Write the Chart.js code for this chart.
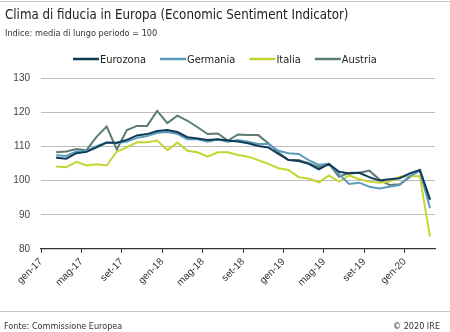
<!DOCTYPE html>
<html>
<head>
<meta charset="utf-8">
<script src="https://cdn.jsdelivr.net/npm/chart.js@4/dist/chart.umd.min.js"></script>
<style>
  html, body { margin: 0; padding: 0; background: #ffffff; }
  #wrap { width: 450px; height: 332px; }
</style>
</head>
<body>
<div id="wrap"><canvas id="c" width="450" height="332"></canvas></div>
<script>
// Economic Sentiment Indicator, monthly, feb-17 .. mar-20 (long-term average = 100)
const months = [
  'feb-17','mar-17','apr-17','mag-17','giu-17','lug-17','ago-17','set-17','ott-17','nov-17','dic-17',
  'gen-18','feb-18','mar-18','apr-18','mag-18','giu-18','lug-18','ago-18','set-18','ott-18','nov-18','dic-18',
  'gen-19','feb-19','mar-19','apr-19','mag-19','giu-19','lug-19','ago-19','set-19','ott-19','nov-19','dic-19',
  'gen-20','feb-20','mar-20'
];
const tickLabels = ['gen-17','mag-17','set-17','gen-18','mag-18','set-18','gen-19','mag-19','set-19','gen-20'];
const seriesNames = ['Eurozona', 'Germania', 'Italia', 'Austria'];

const eurozona = [106.7,106.4,108.0,108.4,109.7,111.1,111.1,111.9,113.2,113.6,114.5,
  114.8,114.2,112.7,112.3,111.9,112.1,111.7,111.4,110.9,110.1,109.7,107.8,
  106.0,105.7,104.9,103.3,104.9,102.6,102.1,102.3,101.0,100.0,100.4,100.7,
  102.1,103.1,94.5];
const germania = [107.4,107.2,108.5,108.7,110.1,111.2,110.9,111.4,112.5,113.0,114.0,
  114.2,113.7,112.1,112.1,111.4,112.0,111.4,111.9,111.4,110.7,110.7,108.7,
  108.0,107.8,106.0,104.6,104.9,101.9,99.0,99.4,98.2,97.7,98.2,98.7,
  101.3,102.9,91.9];
const italia = [104.1,103.9,105.5,104.4,104.8,104.4,108.5,109.7,111.2,111.2,111.7,
  108.9,111.1,108.7,108.3,107.0,108.3,108.3,107.5,107.0,106.0,104.9,103.6,
  103.1,101.0,100.6,99.5,101.5,99.7,101.5,100.4,99.7,99.4,99.7,101.1,
  101.3,101.3,83.6];
const austria = [108.3,108.5,109.2,108.9,112.8,115.8,109.1,114.8,116.0,116.0,120.4,
  116.8,119.0,117.5,115.6,113.6,113.8,111.7,113.5,113.3,113.3,110.9,108.3,
  106.0,106.0,105.1,103.9,104.9,101.1,102.3,102.3,102.9,100.3,98.7,98.9,
  101.0,103.1,94.3];

const colors = ['#0f3b57', '#5b9cbd', '#c4d531', '#5c7c73'];

// The x scale counts months from gen-17; each monthly value sits mid-month.
const firstMonth = 1;
const toPoints = vals => vals.map((v, i) => ({ x: firstMonth + i + 0.5, y: v }));

const NARROW = "'Liberation Sans Narrow', 'DejaVu Sans Condensed', sans-serif";
const SANS = "'Liberation Sans', Arial, sans-serif";

const header = {
  id: 'header',
  afterDraw(chart) {
    const ctx = chart.ctx;
    ctx.save();
    // top and bottom rules
    ctx.strokeStyle = '#c6c6c6';
    ctx.lineWidth = 1;
    ctx.beginPath(); ctx.moveTo(0, 1.5); ctx.lineTo(450, 1.5); ctx.stroke();
    ctx.beginPath(); ctx.moveTo(0, 311.5); ctx.lineTo(450, 311.5); ctx.stroke();

    ctx.textBaseline = 'alphabetic';
    ctx.textAlign = 'left';
    ctx.fillStyle = '#1c1c1c';
    ctx.font = '13.2px ' + NARROW;
    ctx.fillText('Clima di fiducia in Europa (Economic Sentiment Indicator)', 5, 19);
    ctx.fillStyle = '#333333';
    ctx.font = '9.1px ' + NARROW;
    ctx.fillText('Indice: media di lungo periodo = 100', 5, 36);

    // legend: line sample followed by the series name
    ctx.font = '11px ' + NARROW;
    let x = 73;
    chart.data.datasets.forEach(ds => {
      ctx.strokeStyle = ds.borderColor;
      ctx.lineWidth = 2.5;
      ctx.beginPath(); ctx.moveTo(x, 59); ctx.lineTo(x + 26, 59); ctx.stroke();
      ctx.fillStyle = '#222222';
      ctx.fillText(ds.label, x + 27, 63);
      x += 27 + ctx.measureText(ds.label).width + 14;
    });

    // source and copyright
    ctx.fillStyle = '#333333';
    ctx.font = '9px ' + NARROW;
    ctx.fillText('Fonte: Commissione Europea', 4, 329);
    ctx.textAlign = 'right';
    ctx.fillText('\u00A9 2020 IRE', 440, 329);
    ctx.restore();
  }
};

new Chart(document.getElementById('c'), {
  type: 'line',
  data: {
    datasets: [eurozona, germania, italia, austria].map((vals, k) => ({
      label: seriesNames[k],
      data: toPoints(vals),
      borderColor: colors[k],
      backgroundColor: colors[k],
      borderWidth: 2,
      pointRadius: 0,
      tension: 0,
      fill: false
    }))
  },
  options: {
    responsive: false,
    animation: false,
    devicePixelRatio: 1,
    layout: { padding: { top: 78, left: 0, right: 15, bottom: 21 } },
    plugins: {
      legend: { display: false },
      title: { display: false },
      tooltip: { enabled: false }
    },
    scales: {
      x: {
        type: 'linear',
        min: 0,
        max: 39,
        afterBuildTicks: s => { s.ticks = tickLabels.map((_, k) => ({ value: k * 4 })); },
        afterFit: s => { s.height = 62; },
        ticks: {
          callback: v => tickLabels[Math.round(v / 4)] ?? '',
          minRotation: 45, maxRotation: 45,
          autoSkip: false,
          padding: 3,
          color: '#333333',
          font: { family: SANS, size: 10 }
        },
        grid: { drawOnChartArea: false, drawTicks: true, tickLength: 4, color: '#333333', lineWidth: 1 },
        border: { display: true, color: '#333333', width: 1.2 }
      },
      y: {
        min: 80,
        max: 130,
        afterFit: s => { s.width = 41; },
        ticks: { stepSize: 10, padding: 11, color: '#444444', font: { family: SANS, size: 10 } },
        grid: {
          drawTicks: false,
          lineWidth: 1,
          color: c => (c.tick && c.tick.value === 80) ? 'rgba(0,0,0,0)' : '#bdbdbd'
        },
        border: { display: false }
      }
    }
  },
  plugins: [header]
});
</script>
</body>
</html>
